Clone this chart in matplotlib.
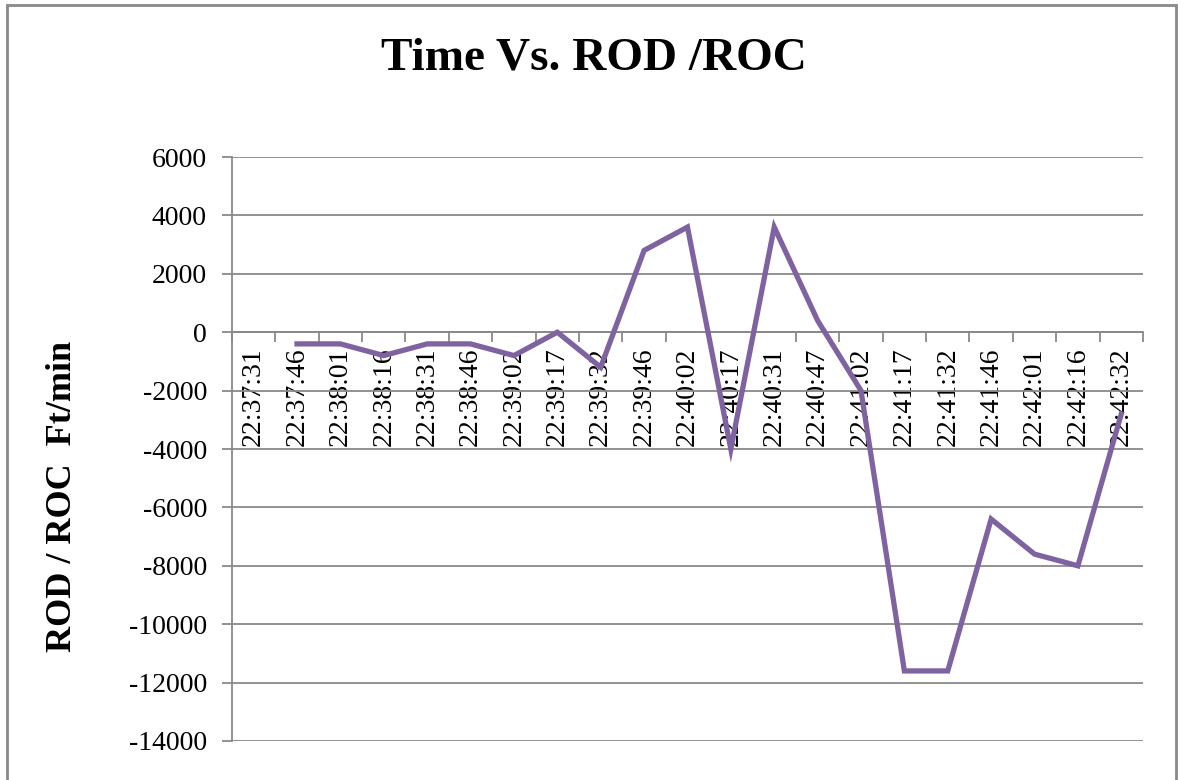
import numpy as np
import matplotlib.pyplot as plt
from matplotlib.patches import Rectangle

times = ['22:37:31', '22:37:46', '22:38:01', '22:38:16', '22:38:31', '22:38:46',
         '22:39:02', '22:39:17', '22:39:32', '22:39:46', '22:40:02', '22:40:17',
         '22:40:31', '22:40:47', '22:41:02', '22:41:17', '22:41:32', '22:41:46',
         '22:42:01', '22:42:16', '22:42:32']
rate = [np.nan, -400, -400, -800, -400, -400, -800, 0, -1200, 2800, 3600, -4000,
        3600, 400, -2000, -11600, -11600, -6400, -7600, -8000, -2800]

plt.rcParams['axes.unicode_minus'] = False
grey = '#898989'

fig = plt.figure(figsize=(11.81, 7.80), dpi=100)
ax = fig.add_axes([0.1964, 0.05, 0.7714, 0.7487])

x = np.arange(len(times))
ax.plot(x, rate, color='#7f63a1', linewidth=3.8, solid_joinstyle='miter', zorder=3)

ax.set_xlim(-0.5, len(times) - 0.5)
ax.set_ylim(-14000, 6000)
ax.set_yticks(np.arange(-14000, 6001, 2000))
ax.grid(axis='y', color=grey, linewidth=1.3)
ax.set_axisbelow(True)

for side in ['top', 'right']:
    ax.spines[side].set_visible(False)
ax.spines['left'].set_color(grey)
ax.spines['left'].set_linewidth(1.3)
ax.spines['bottom'].set_position(('data', 0))
ax.spines['bottom'].set_color(grey)
ax.spines['bottom'].set_linewidth(1.3)

ax.set_xticks(x)
ax.set_xticklabels(times, rotation=90, fontsize=20, family='Liberation Serif')
ax.set_xticks(np.arange(-0.5, len(times), 1), minor=True)
ax.tick_params(axis='x', which='major', length=0, pad=11)
ax.tick_params(axis='x', which='minor', length=7, color=grey, width=1.3)
ax.tick_params(axis='y', length=7, color=grey, width=1.3, pad=11)
for lbl in ax.get_yticklabels():
    lbl.set_fontsize(20)
    lbl.set_family('Liberation Serif')

fig.text(0.053, 0.363, 'ROD / ROC  Ft/min', rotation=90, ha='center', va='center',
         fontsize=26, fontweight='bold', family='Liberation Serif')
fig.text(0.503, 0.925, 'Time Vs. ROD /ROC', ha='center', va='center',
         fontsize=34, fontweight='bold', family='Liberation Serif')

fig.patches.append(Rectangle((0.006, -0.01), 0.99, 1.0036, transform=fig.transFigure,
                             fill=False, edgecolor=grey, linewidth=2))

fig.savefig('out.png', dpi=100)
